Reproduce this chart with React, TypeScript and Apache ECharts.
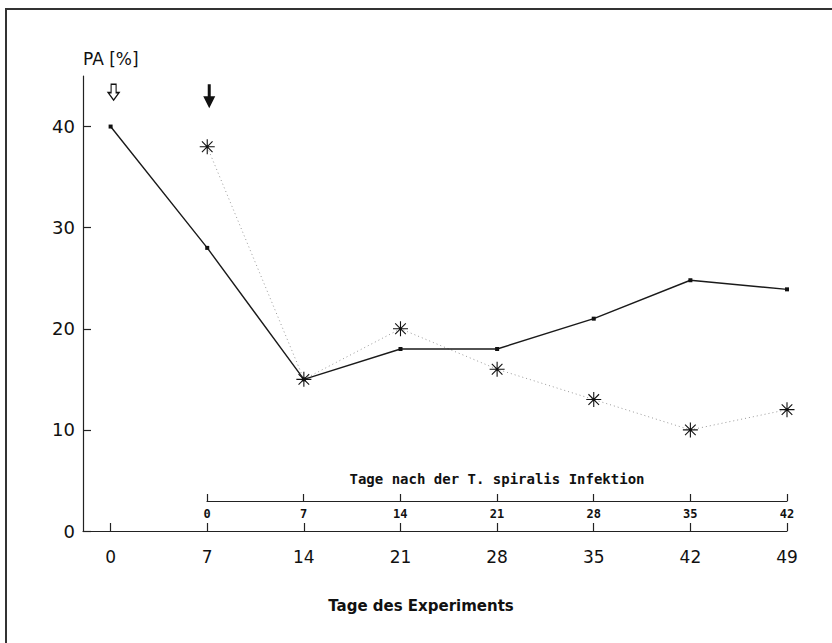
import React, { useEffect, useRef } from "react";
import * as echarts from "echarts";

// Days of the experiment and PA values
const days = [0, 7, 14, 21, 28, 35, 42, 49];
const paSolid = [40, 28, 15, 18, 18, 21, 24.8, 23.9];

const infectedDays = [7, 14, 21, 28, 35, 42, 49];
const paInfected = [38, 15, 20, 16, 13, 10, 12];

// Tick labels
const experimentTicks = [0, 7, 14, 21, 28, 35, 42, 49];
const infectionTicks = [0, 7, 14, 21, 28, 35, 42];
const yTicks = [0, 10, 20, 30, 40];

// Event arrows (day, height)
const eventDays = [0, 7];
const eventLevels = [43.4, 43.0];

const FONT = "DejaVu Sans";
const MONO = "DejaVu Sans Mono";

const asterisk =
  "path://M10,0L10,20M0,10L20,10M2.93,2.93L17.07,17.07M2.93,17.07L17.07,2.93";
const hollowArrow = "path://M3,0L8,0L8,9L11,9L5.5,17L0,9L3,9Z";
const solidArrow = "path://M4.5,0L7.5,0L7.5,12L12,12L6,24L0,12L4.5,12Z";

export default function App() {
  const ref = useRef<HTMLDivElement>(null);

  useEffect(() => {
    if (!ref.current) return;
    const chart = echarts.init(ref.current, null, { renderer: "svg" });

    const option: any = {
      animation: false,
      backgroundColor: "#ffffff",
      grid: [
        { left: 83, right: 45, top: 76, bottom: 112 },
        { left: 207, right: 45, top: 460, bottom: 142 },
      ],
      xAxis: [
        {
          type: "value",
          gridIndex: 0,
          min: -2,
          max: 49,
          name: "Tage des Experiments",
          nameLocation: "middle",
          nameGap: 67,
          nameTextStyle: {
            fontFamily: FONT,
            fontSize: 15,
            fontWeight: "bold",
            color: "#111",
            padding: [0, 28, 0, 0],
          },
          axisLine: { onZero: false, lineStyle: { color: "#222", width: 1.2 } },
          axisTick: {
            inside: true,
            length: 8,
            customValues: experimentTicks,
            lineStyle: { color: "#222", width: 1.2 },
          },
          axisLabel: {
            customValues: experimentTicks,
            margin: 17,
            fontFamily: FONT,
            fontSize: 17,
            color: "#111",
          },
          splitLine: { show: false },
        },
        {
          type: "value",
          gridIndex: 1,
          min: 0,
          max: 42,
          interval: 7,
          name: "Tage nach der T. spiralis Infektion",
          nameLocation: "middle",
          nameGap: -22,
          nameTextStyle: {
            fontFamily: MONO,
            fontSize: 14,
            fontWeight: "bold",
            color: "#111",
            verticalAlign: "middle",
          },
          axisLine: { onZero: false, lineStyle: { color: "#222", width: 1.2 } },
          axisTick: {
            inside: true,
            length: 7,
            customValues: infectionTicks,
            lineStyle: { color: "#222", width: 1.2 },
          },
          axisLabel: {
            customValues: infectionTicks,
            margin: 7,
            fontFamily: MONO,
            fontSize: 12,
            fontWeight: "bold",
            color: "#111",
          },
          splitLine: { show: false },
        },
      ],
      yAxis: [
        {
          type: "value",
          gridIndex: 0,
          min: 0,
          max: 45,
          name: "PA [%]",
          nameLocation: "end",
          nameGap: 17,
          nameTextStyle: {
            fontFamily: FONT,
            fontSize: 17,
            color: "#111",
            align: "left",
            verticalAlign: "middle",
          },
          axisLine: {
            show: true,
            onZero: false,
            lineStyle: { color: "#222", width: 1.2 },
          },
          axisTick: {
            show: true,
            inside: true,
            length: 8,
            customValues: yTicks,
            lineStyle: { color: "#222", width: 1.2 },
          },
          axisLabel: {
            customValues: yTicks,
            margin: 8,
            fontFamily: FONT,
            fontSize: 18,
            color: "#111",
          },
          splitLine: { show: false },
        },
        {
          type: "value",
          gridIndex: 1,
          min: 0,
          max: 1,
          show: false,
        },
      ],
      series: [
        {
          name: "PA",
          type: "line",
          xAxisIndex: 0,
          yAxisIndex: 0,
          silent: true,
          data: days.map((d, i) => [d, paSolid[i]]),
          symbol: "rect",
          symbolSize: 4,
          itemStyle: { color: "#111" },
          lineStyle: { color: "#1a1a1a", width: 1.4 },
          z: 3,
          markPoint: {
            silent: true,
            label: { show: false },
            data: eventDays.map((d, i) =>
              i === 0
                ? {
                    coord: [d, eventLevels[i]],
                    symbol: hollowArrow,
                    symbolSize: [11, 16],
                    symbolOffset: [3, 0],
                    itemStyle: {
                      color: "#ffffff",
                      borderColor: "#111",
                      borderWidth: 1.3,
                    },
                  }
                : {
                    coord: [d, eventLevels[i]],
                    symbol: solidArrow,
                    symbolSize: [12, 24],
                    symbolOffset: [2, 0],
                    itemStyle: { color: "#111", borderWidth: 0 },
                  }
            ),
          },
        },
        {
          name: "PA T. spiralis",
          type: "line",
          xAxisIndex: 0,
          yAxisIndex: 0,
          silent: true,
          data: infectedDays.map((d, i) => [d, paInfected[i]]),
          symbol: asterisk,
          symbolSize: 15,
          itemStyle: {
            color: "none",
            borderColor: "#111",
            borderWidth: 1.1,
          },
          lineStyle: { color: "#9a9a9a", width: 1, type: [1, 3] },
          z: 2,
        },
      ],
      graphic: [
        {
          type: "polyline",
          silent: true,
          shape: {
            points: [
              [6, 643],
              [6, 9],
              [832, 9],
            ],
          },
          style: { stroke: "#333", lineWidth: 2, fill: "none" },
        },
      ],
    };

    chart.setOption(option);
    return () => chart.dispose();
  }, []);

  return (
    <div
      ref={ref}
      style={{
        position: "absolute",
        left: 0,
        top: 0,
        width: 832,
        height: 643,
        background: "#fff",
      }}
    />
  );
}
